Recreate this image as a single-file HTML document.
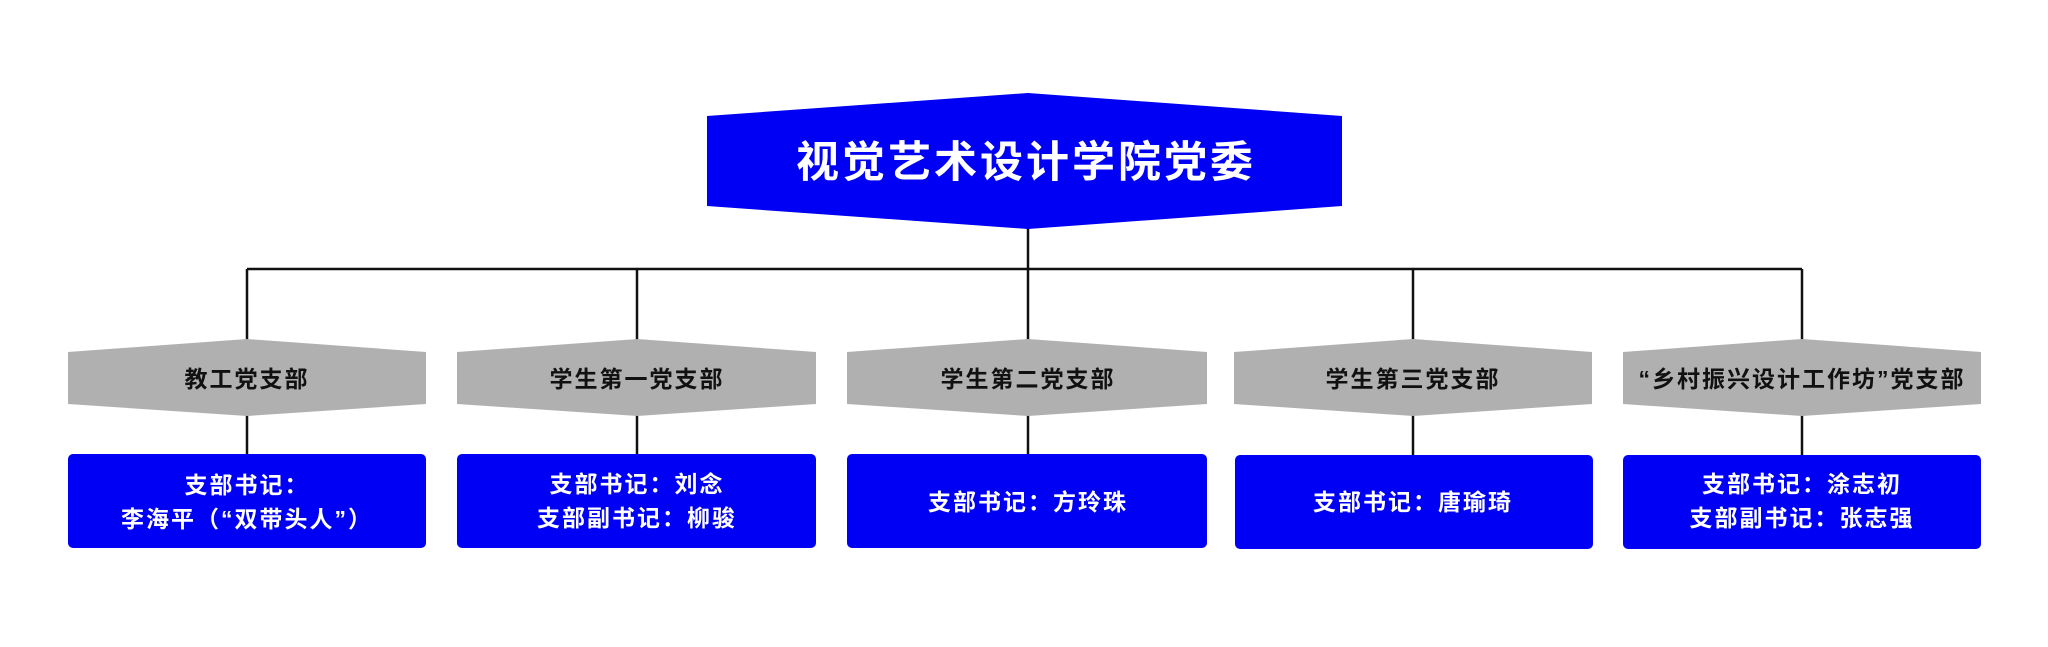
<!DOCTYPE html>
<html><head><meta charset="utf-8"><style>
html,body{margin:0;padding:0;background:#fff;}
svg text{font-family:"Liberation Sans","Noto Sans CJK SC",sans-serif;font-weight:bold;}
</style></head><body>
<svg width="2048" height="642" viewBox="0 0 2048 642" xmlns="http://www.w3.org/2000/svg">
<rect width="2048" height="642" fill="#fff"/>
<g stroke="#111" stroke-width="2.5" fill="none">
<line x1="1028" y1="225" x2="1028" y2="269"/>
<line x1="247" y1="269" x2="1802" y2="269"/>
<line x1="247" y1="269" x2="247" y2="342"/>
<line x1="637" y1="269" x2="637" y2="342"/>
<line x1="1028" y1="269" x2="1028" y2="342"/>
<line x1="1413" y1="269" x2="1413" y2="342"/>
<line x1="1802" y1="269" x2="1802" y2="342"/>
<line x1="247" y1="414" x2="247" y2="455"/>
<line x1="637" y1="414" x2="637" y2="455"/>
<line x1="1028" y1="414" x2="1028" y2="455"/>
<line x1="1413" y1="414" x2="1413" y2="455"/>
<line x1="1802" y1="414" x2="1802" y2="455"/>
</g>
<polygon points="707,116 1028,93 1342,116 1342,206 1028,229 707,206" fill="#0000f5"/>
<text x="1026" y="177" font-size="43" fill="#fff" text-anchor="middle" letter-spacing="3">视觉艺术设计学院党委</text>
<g fill="#b0b0b0">
<polygon points="68,352 247,339 426,352 426,404 247,416 68,404"/>
<polygon points="457,352 637,339 816,352 816,404 637,416 457,404"/>
<polygon points="847,352 1028,339 1207,352 1207,404 1028,416 847,404"/>
<polygon points="1234,352 1413,339 1592,352 1592,404 1413,416 1234,404"/>
<polygon points="1623,352 1802,339 1981,352 1981,404 1802,416 1623,404"/>
</g>
<g font-size="23" fill="#111" text-anchor="middle" letter-spacing="2">
<text x="247" y="387">教工党支部</text>
<text x="637" y="387">学生第一党支部</text>
<text x="1028" y="387">学生第二党支部</text>
<text x="1413" y="387">学生第三党支部</text>
<text x="1802" y="387">“乡村振兴设计工作坊”党支部</text>
</g>
<g fill="#0000f5">
<rect x="68" y="454" width="358" height="94" rx="5"/>
<rect x="457" y="454" width="359" height="94" rx="5"/>
<rect x="847" y="454" width="360" height="94" rx="5"/>
<rect x="1235" y="455" width="358" height="94" rx="5"/>
<rect x="1623" y="455" width="358" height="94" rx="5"/>
</g>
<g font-size="23" fill="#fff" text-anchor="middle" letter-spacing="2">
<text x="247" y="493">支部书记：</text>
<text x="247" y="527">李海平（“双带头人”）</text>
<text x="637" y="492">支部书记：刘念</text>
<text x="637" y="526">支部副书记：柳骏</text>
<text x="1028" y="510">支部书记：方玲珠</text>
<text x="1413" y="510">支部书记：唐瑜琦</text>
<text x="1802" y="492">支部书记：涂志初</text>
<text x="1802" y="526">支部副书记：张志强</text>
</g>
</svg>
</body></html>
